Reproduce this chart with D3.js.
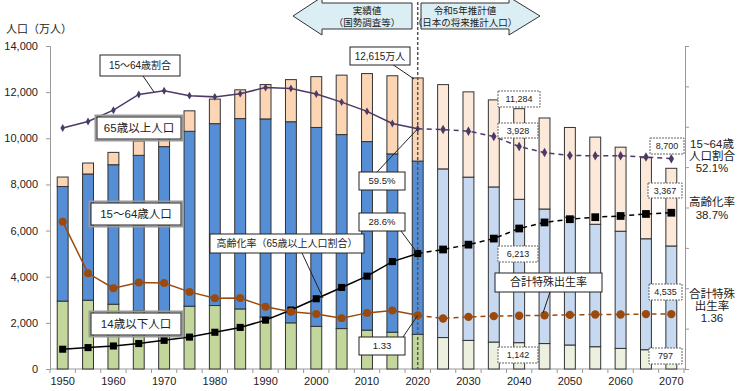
<!DOCTYPE html>
<html>
<head>
<meta charset="utf-8">
<script src="https://cdn.jsdelivr.net/npm/d3@7"></script>
<style>
  body { margin: 0; background: #fff; }
  svg text { font-family: "Liberation Sans", "Noto Sans CJK JP", sans-serif; fill: #222; }
</style>
</head>
<body>
<div class="fig"></div>
<script>
var years = [1950, 1955, 1960, 1965, 1970, 1975, 1980, 1985, 1990, 1995, 2000, 2005, 2010, 2015, 2020,
             2025, 2030, 2035, 2040, 2045, 2050, 2055, 2060, 2065, 2070];
var age0_14  = [2943, 2980, 2807, 2517, 2482, 2722, 2751, 2603, 2249, 2001, 1847, 1752, 1684, 1595, 1503,
                1363, 1240, 1169, 1142, 1103, 1041, 966, 893, 836, 797];
var age15_64 = [4966, 5473, 6047, 6744, 7157, 7581, 7883, 8251, 8590, 8716, 8622, 8409, 8173, 7728, 7509,
                7310, 7076, 6722, 6213, 5832, 5540, 5307, 5078, 4809, 4535];
var age65    = [411, 475, 535, 624, 739, 887, 1065, 1247, 1489, 1826, 2204, 2576, 2948, 3387, 3603,
                3653, 3696, 3773, 3928, 3945, 3888, 3778, 3644, 3513, 3367];
var ratio15_64 = [59.7, 61.3, 64.1, 68.0, 68.9, 67.7, 67.4, 68.2, 69.7, 69.5, 68.1, 66.1, 63.8, 60.8, 59.5,
                  59.3, 58.9, 57.6, 55.1, 53.6, 52.9, 52.8, 52.8, 52.5, 52.1];
var agingRate = [4.9, 5.3, 5.7, 6.3, 7.1, 7.9, 9.1, 10.3, 12.1, 14.6, 17.4, 20.2, 23.0, 26.6, 28.6,
                 29.6, 30.8, 32.3, 34.8, 36.3, 37.1, 37.6, 37.9, 38.4, 38.7];
var tfr = [3.65, 2.37, 2.00, 2.14, 2.13, 1.91, 1.75, 1.76, 1.54, 1.42, 1.36, 1.26, 1.39, 1.45, 1.33,
           1.25, 1.29, 1.31, 1.32, 1.33, 1.34, 1.35, 1.35, 1.36, 1.36];
var yTicks = [0, 2000, 4000, 6000, 8000, 10000, 12000, 14000];
var xLabelYears = [1950, 1960, 1970, 1980, 1990, 2000, 2010, 2020, 2030, 2040, 2050, 2060, 2070];
var lastActual = 2020;

var w = 738, h = 391;
var svg = d3.select('.fig').append('svg').attr('width', w).attr('height', h);

var x = d3.scaleBand().domain(years).range([50, 684]).paddingInner(0.57).paddingOuter(0.285);
var y = d3.scaleLinear().domain([0, 14000]).range([369, 46]);
var yr = d3.scaleLinear().domain([0, 80]).range([369, 46]);
var cx = function (yr_) { return x(yr_) + x.bandwidth() / 2; };

var rows = years.map(function (yv, i) {
  return { year: yv, a: age0_14[i], b: age15_64[i], c: age65[i], past: yv <= lastActual };
});

// axes
var yAxis = svg.append('g').attr('transform', 'translate(50,0)')
  .call(d3.axisLeft(y).tickValues(yTicks).tickSize(4).tickFormat(d3.format(',')));
yAxis.selectAll('text').attr('font-size', 11).attr('x', -12);
yAxis.selectAll('line, path').attr('stroke', '#999');

var yAxisR = svg.append('g').attr('transform', 'translate(685,0)')
  .call(d3.axisRight(yr).tickValues(d3.range(0, 90, 10)).tickSize(4).tickFormat(''));
yAxisR.selectAll('line, path').attr('stroke', '#999');

var xAxis = svg.append('g').attr('transform', 'translate(0,369)');
xAxis.append('line').attr('x1', 50).attr('x2', 685).attr('stroke', '#999');
xAxis.selectAll('.tk').data(years.concat([2075])).enter().append('line')
  .attr('x1', function (d) { return d === 2075 ? 684 : x(d) - x.step() * x.paddingInner() / 2; })
  .attr('x2', function (d) { return d === 2075 ? 684 : x(d) - x.step() * x.paddingInner() / 2; })
  .attr('y2', 4).attr('stroke', '#999');
xAxis.selectAll('.lb').data(xLabelYears).enter().append('text')
  .attr('x', function (d) { return cx(d); }).attr('y', 16)
  .attr('text-anchor', 'middle').attr('font-size', 11).text(function (d) { return d; });

// stacked bars
var segs = [
  { key: 'a', base: function (d) { return 0; }, past: '#c3d69b', fut: '#ebf1de' },
  { key: 'b', base: function (d) { return d.a; }, past: '#558ed5', fut: '#c6d9f1' },
  { key: 'c', base: function (d) { return d.a + d.b; }, past: '#fcd5b5', fut: '#fde9d9' }
];
segs.forEach(function (s) {
  svg.append('g').selectAll('rect').data(rows).enter().append('rect')
    .attr('x', function (d) { return x(d.year); })
    .attr('width', x.bandwidth())
    .attr('y', function (d) { return y(s.base(d) + d[s.key]); })
    .attr('height', function (d) { return y(s.base(d)) - y(s.base(d) + d[s.key]); })
    .attr('fill', function (d) { return d.past ? s.past : s.fut; })
    .attr('stroke', '#333').attr('stroke-width', 1);
});

// separator
svg.append('line').attr('x1', cx(2020)).attr('x2', cx(2020)).attr('y1', 2).attr('y2', 369)
  .attr('stroke', '#555').attr('stroke-width', 1.5).attr('stroke-dasharray', '3,2');

// lines
var idx2020 = years.indexOf(lastActual);
function drawSeries(vals, scaleVal, color, marker, sizePast, sizeFut) {
  var pts = years.map(function (yv, i) { return [cx(yv), yr(scaleVal(vals[i]))]; });
  var line = d3.line();
  svg.append('path').attr('d', line(pts.slice(0, idx2020 + 1)))
    .attr('fill', 'none').attr('stroke', color).attr('stroke-width', 1.5);
  svg.append('path').attr('d', line(pts.slice(idx2020)))
    .attr('fill', 'none').attr('stroke', color).attr('stroke-width', 1.5).attr('stroke-dasharray', '5,4');
  svg.append('g').selectAll('path').data(pts).enter().append('path')
    .attr('transform', function (p) { return 'translate(' + p[0] + ',' + p[1] + ')'; })
    .attr('d', function (p, i) {
      var s = i <= idx2020 ? sizePast : sizeFut;
      return d3.symbol().type(marker).size(s)();
    })
    .attr('fill', color);
}
drawSeries(ratio15_64, function (v) { return v; }, '#4b3a66', d3.symbolDiamond, 18, 26);
drawSeries(agingRate, function (v) { return v; }, '#000', d3.symbolSquare, 50, 60);
drawSeries(tfr, function (v) { return v * 10; }, '#9c4a0c', d3.symbolCircle, 50, 55);

// header arrows
var arrows = svg.append('g');
arrows.append('path')
  .attr('d', 'M412,3 L322,3 L322,-3 L293,16 L322,35 L322,29 L412,29 Z')
  .attr('fill', '#dbeef4').attr('stroke', '#333');
arrows.append('path')
  .attr('d', 'M421,3 L509,3 L509,-3 L540,16 L509,35 L509,29 L421,29 Z')
  .attr('fill', '#dbeef4').attr('stroke', '#333');
[['実績値', 367, 14], ['（国勢調査等）', 367, 26], ['令和5年推計値', 465, 14], ['（日本の将来推計人口）', 465, 26]]
  .forEach(function (t) {
    arrows.append('text').attr('x', t[1]).attr('y', t[2]).attr('text-anchor', 'middle')
      .attr('font-size', 9.5).text(t[0]);
  });

svg.append('text').attr('x', 6).attr('y', 33).attr('font-size', 11).text('人口（万人）');

// label boxes
function box(x0, y0, bw, bh, label, opts) {
  opts = opts || {};
  var g = svg.append('g');
  if (opts.lead) {
    g.append('line').attr('x1', opts.lead[0]).attr('y1', opts.lead[1])
      .attr('x2', opts.lead[2]).attr('y2', opts.lead[3]).attr('stroke', '#222');
  }
  if (opts.shadow) {
    g.append('rect').attr('x', x0 - 1.5).attr('y', y0 - 1.5).attr('width', bw + 3).attr('height', bh + 3)
      .attr('fill', 'none').attr('stroke', '#999').attr('stroke-width', 2);
  }
  g.append('rect').attr('x', x0).attr('y', y0).attr('width', bw).attr('height', bh)
    .attr('fill', '#fff').attr('stroke', opts.dashed ? '#666' : '#222')
    .attr('stroke-width', 1).attr('stroke-dasharray', opts.dashed ? '2,1' : null);
  g.append('text').attr('x', x0 + bw / 2).attr('y', y0 + bh / 2 + (opts.fs || 11) * 0.36)
    .attr('text-anchor', 'middle').attr('font-size', opts.fs || 11).text(label);
}
box(100, 55, 80, 21, '15～64歳割合', { lead: [143, 76, 154, 92], fs: 10 });
box(97, 117, 84, 22, '65歳以上人口', { shadow: true, fs: 11.5 });
box(91, 203, 90, 22, '15～64歳人口', { shadow: true, fs: 11.5 });
box(91, 313, 90, 22, '14歳以下人口', { shadow: true, fs: 11.5 });
box(210, 234, 154, 19, '高齢化率（65歳以上人口割合）', { lead: [302, 253, 323, 298], fs: 10 });
box(350, 47, 60, 18, '12,615万人', { lead: [392, 64, 414, 79], fs: 10 });
box(359, 172, 46, 18, '59.5%', { lead: [377, 172, cx(2020), yr(59.5)], fs: 9.5 });
box(359, 213, 46, 18, '28.6%', { lead: [401, 231, cx(2020), yr(28.6)], fs: 9.5 });
box(359, 337, 46, 18, '1.33', { lead: [403, 337, cx(2020), yr(13.3)], fs: 9.5 });
box(495, 273, 107, 19, '合計特殊出生率', { lead: [550, 292, 543, 313], fs: 11 });
box(498, 91, 42, 16, '11,284', { dashed: true, fs: 9 });
box(498, 123, 40, 15, '3,928', { dashed: true, fs: 9 });
box(498, 246, 40, 16, '6,213', { dashed: true, fs: 9 });
box(498, 347, 40, 16, '1,142', { dashed: true, fs: 9 });
box(650, 138, 34, 16, '8,700', { dashed: true, fs: 9 });
box(648, 183, 34, 15, '3,367', { dashed: true, fs: 9 });
box(649, 284, 33, 16, '4,535', { dashed: true, fs: 9 });
box(649, 348, 33, 16, '797', { dashed: true, fs: 9 });

// right side notes
var notes = [
  ['15~64歳', 148], ['人口割合', 160], ['52.1%', 172],
  ['高齢化率', 206], ['38.7%', 219],
  ['合計特殊', 298], ['出生率', 310], ['1.36', 322]
];
notes.forEach(function (n) {
  svg.append('text').attr('x', 712).attr('y', n[1]).attr('text-anchor', 'middle')
    .attr('font-size', 11.5).text(n[0]);
});
</script>
</body>
</html>
